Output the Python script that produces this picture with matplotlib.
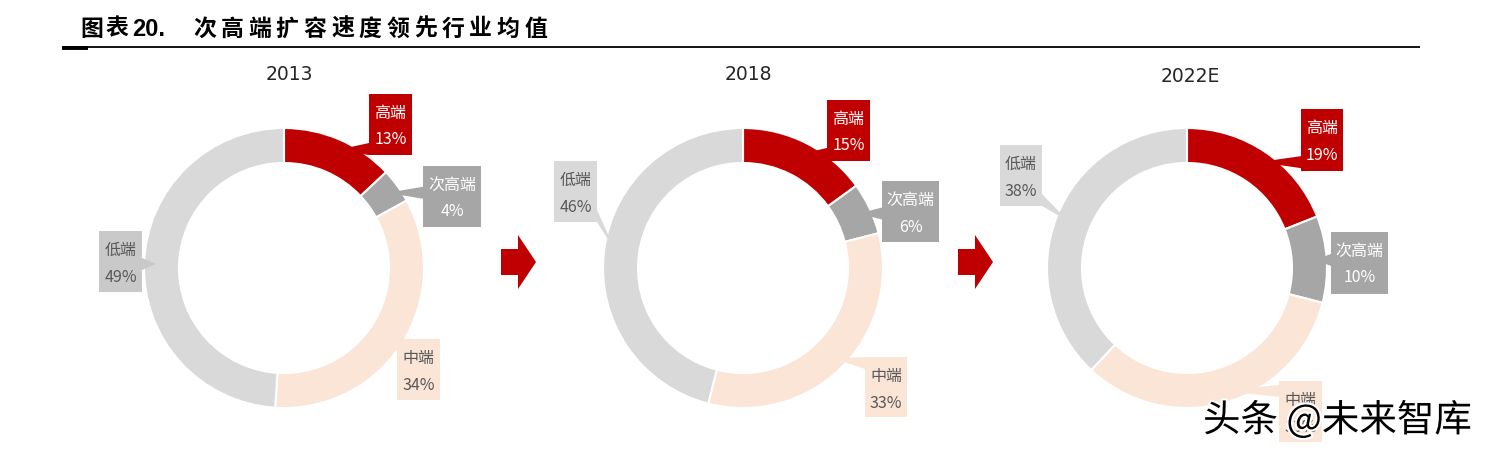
import numpy as np
import matplotlib
matplotlib.use('Agg')
import matplotlib.pyplot as plt
from matplotlib.patches import Rectangle, Polygon
import matplotlib.patheffects as pe

plt.rcParams['font.family'] = ['Noto Sans CJK SC', 'DejaVu Sans']

# data
years = ['2013', '2018', '2022E']
categories = ['高端', '次高端', '中端', '低端']
share_2013 = [13, 4, 34, 49]
share_2018 = [15, 6, 33, 46]
share_2022 = [19, 10, 33, 38]
shares = [share_2013, share_2018, share_2022]

title_head = '图表'
title_num = '20.'
title_rest = '次高端扩容速度领先行业均值'

# styles
seg_colors = ['#C00000', '#A6A6A6', '#FBE5D6', '#D9D9D9']
txt_colors = ['white', 'white', '#595959', '#595959']

W, H = 1491, 454
fig = plt.figure(figsize=(W / 100, H / 100), dpi=100)
ax = fig.add_axes([0, 0, 1, 1])

# layout in pixel space (y measured from top)
centers = [(284, 268), (743, 268), (1187, 268)]
R_OUT, RING = 140, 35
year_pos = [(289, 75), (748, 75), (1190, 76)]
# label boxes: left, top, right, bottom
boxes = [
    [(369, 94, 412, 155), (423, 166, 481, 227), (397, 339, 440, 400), (99, 231, 142, 292)],
    [(827, 100, 870, 161), (882, 181, 939, 242), (865, 357, 907, 417), (554, 161, 597, 222)],
    [(1301, 109, 1343, 171), (1331, 232, 1388, 294), (1279, 381, 1322, 442), (1000, 145, 1042, 206)],
]
low_box_colors = ['#C9C9C9', '#D9D9D9', '#D9D9D9']


def py(y):
    return H - y


for k, vals in enumerate(shares):
    cx, cy = centers[k]
    ax.pie(vals, colors=seg_colors, startangle=90, counterclock=False,
           radius=R_OUT, center=(cx, py(cy)), frame=False,
           wedgeprops=dict(width=RING, edgecolor='white', linewidth=1.5))
    ax.text(year_pos[k][0], py(year_pos[k][1]), years[k], ha='center', va='center',
            fontsize=13.5, color='#262626', family=['DejaVu Sans'])

    cum = 0
    for i, v in enumerate(vals):
        mid = np.deg2rad(90 - 360 * (cum + v / 2) / 100)
        cum += v
        ax_x = cx + (R_OUT - 12) * np.cos(mid)
        ax_y = cy - (R_OUT - 12) * np.sin(mid)
        l, t, r, b = boxes[k][i]
        fc = low_box_colors[k] if i == 3 else seg_colors[i]
        # pointer from box edge toward the ring
        hw = 6
        if ax_x > r:
            yc = min(max(ax_y, t + hw), b - hw)
            base = [(r, yc - hw), (r, yc + hw)]
        elif ax_x < l:
            yc = min(max(ax_y, t + hw), b - hw)
            base = [(l, yc - hw), (l, yc + hw)]
        elif ax_y > b:
            xc = min(max(ax_x, l + hw), r - hw)
            base = [(xc - hw, b), (xc + hw, b)]
        elif ax_y < t:
            xc = min(max(ax_x, l + hw), r - hw)
            base = [(xc - hw, t), (xc + hw, t)]
        else:
            base = None
        if base is not None:
            pts = [(base[0][0], py(base[0][1])), (ax_x, py(ax_y)), (base[1][0], py(base[1][1]))]
            ax.add_patch(Polygon(pts, closed=True, facecolor=fc, edgecolor='none', zorder=3))
        ax.add_patch(Rectangle((l, py(b)), r - l, b - t, facecolor=fc, edgecolor='none', zorder=4))
        xm = (l + r) / 2
        ax.text(xm, py(t + 19), categories[i], ha='center', va='center',
                fontsize=11.5, color=txt_colors[i], zorder=5)
        ax.text(xm, py(t + 46), f'{v}%', ha='center', va='center',
                fontsize=11.5, color=txt_colors[i], zorder=5)

# arrows between the donuts
for x0 in [501, 958]:
    arrow = [(x0, 249), (x0 + 17, 249), (x0 + 17, 235), (x0 + 35, 262),
             (x0 + 17, 289), (x0 + 17, 275), (x0, 275)]
    ax.add_patch(Polygon([(x, py(y)) for x, y in arrow], closed=True,
                         facecolor='#C00000', edgecolor='none'))

# title and rule
TY = py(29)
for i, ch in enumerate(title_head):
    ax.text(80 + i * 26, TY, ch, ha='left', va='center', fontsize=16.5,
            fontweight='bold', color='black')
ax.text(132, TY, title_num, ha='left', va='center', fontsize=17, fontweight='bold',
        color='black', family=['Liberation Sans', 'DejaVu Sans'])
for i, ch in enumerate(title_rest):
    ax.text(193 + i * 27.6, TY, ch, ha='left', va='center', fontsize=16.5,
            fontweight='bold', color='black')
ax.plot([62, 1420], [py(47), py(47)], color='black', lw=1.3, solid_capstyle='butt')
ax.plot([62, 88], [py(47.5), py(47.5)], color='black', lw=2.8, solid_capstyle='butt')

# watermark
ax.text(1203, py(421), '头条 @未来智库', ha='left', va='center', fontsize=27, color='black',
        zorder=6, path_effects=[pe.withStroke(linewidth=3, foreground='white')])

ax.set_xlim(0, W)
ax.set_ylim(0, H)
ax.set_aspect('auto')
ax.axis('off')

fig.savefig('out.png', dpi=100, facecolor='white')
